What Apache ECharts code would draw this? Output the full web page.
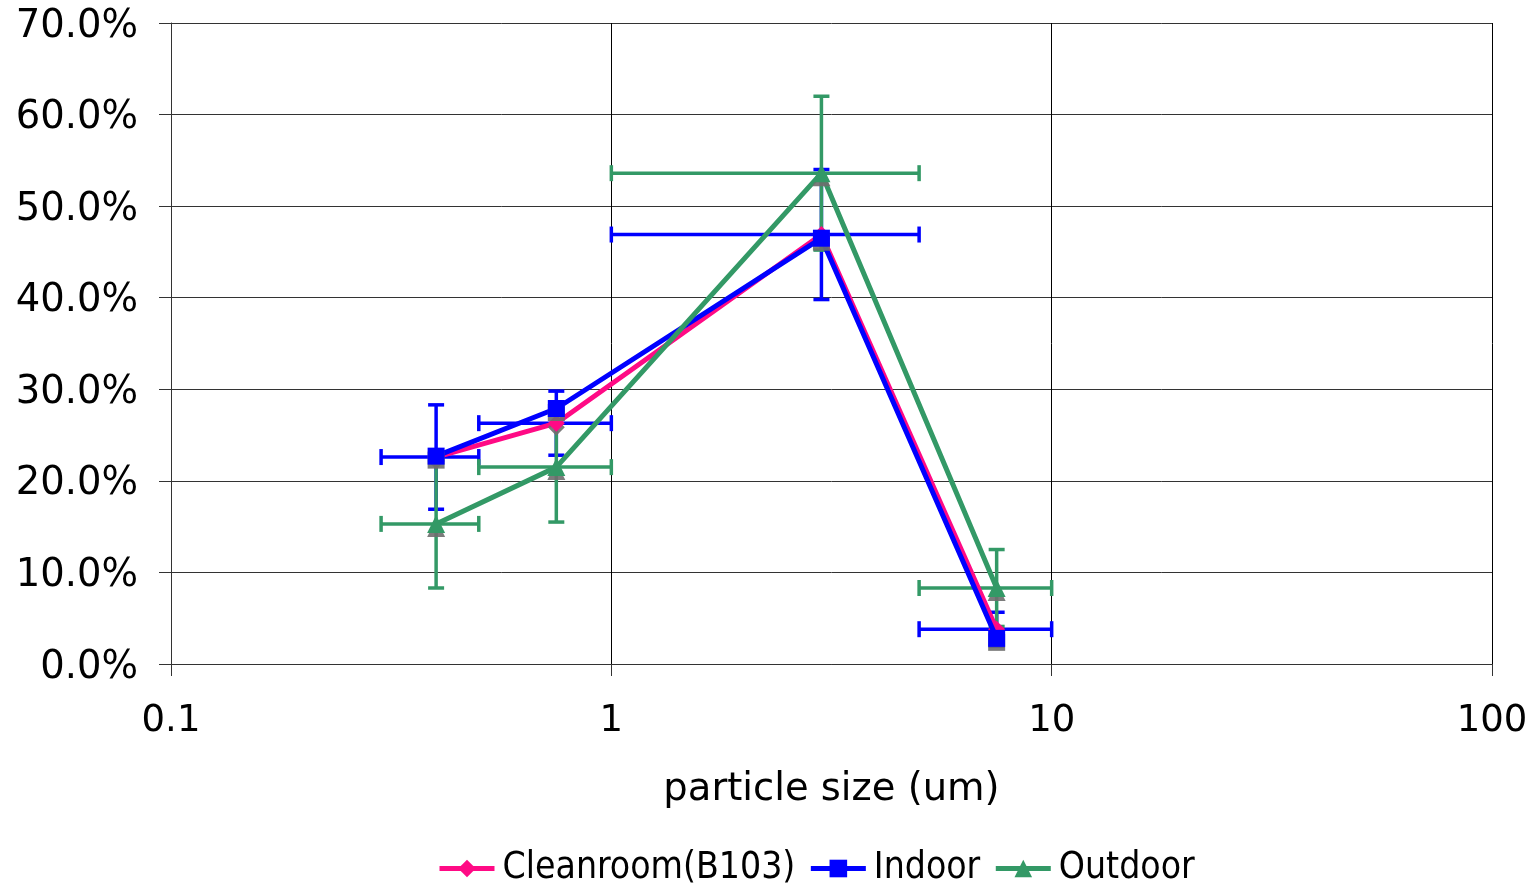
<!DOCTYPE html>
<html><head><meta charset="utf-8">
<script src="https://cdn.jsdelivr.net/npm/echarts@6/dist/echarts.min.js"></script>
<style>html,body{margin:0;padding:0;background:#fff}#c{width:1536px;height:886px}</style>
</head><body><div id="c"></div>
<script>
var particleSize = [0.4, 0.75, 3, 7.5];
var sizeLow = [0.3, 0.5, 1, 5];
var sizeHigh = [0.5, 1, 5, 10];
var cleanroom = [22.6, 26.3, 46.9, 3.8];
var indoor = [22.7, 27.9, 46.5, 2.8];
var outdoor = [15.3, 21.5, 53.6, 8.3];
var cleanroomErr = [5.7, 3.5, 7.1, 1.85];
var outdoorErr = [7.0, 6.0, 8.4, 4.2];
var xTicks = [0.1, 1, 10, 100];
var seriesNames = ['Cleanroom(B103)', 'Indoor', 'Outdoor'];

var FONT = 'DejaVu Sans';
function pts(vals){ return particleSize.map(function(x,i){ return [x, vals[i]]; }); }
function errData(vals, err){
  return particleSize.map(function(x,i){ return [x, vals[i], sizeLow[i], sizeHigh[i], vals[i]-err[i], vals[i]+err[i]]; });
}
function errRender(color){
  return function(params, api){
    var c = api.coord([api.value(0), api.value(1)]);
    var xl = api.coord([api.value(2), api.value(1)]);
    var xh = api.coord([api.value(3), api.value(1)]);
    var yl = api.coord([api.value(0), api.value(4)]);
    var yh = api.coord([api.value(0), api.value(5)]);
    var h = 8;
    var st = {stroke: color, lineWidth: 3.5};
    return {type:'group', children:[
      {type:'line', shape:{x1:xl[0],y1:c[1],x2:xh[0],y2:c[1]}, style:st},
      {type:'line', shape:{x1:xl[0],y1:c[1]-h,x2:xl[0],y2:c[1]+h}, style:st},
      {type:'line', shape:{x1:xh[0],y1:c[1]-h,x2:xh[0],y2:c[1]+h}, style:st},
      {type:'line', shape:{x1:c[0],y1:yl[1],x2:c[0],y2:yh[1]}, style:st},
      {type:'line', shape:{x1:c[0]-h,y1:yl[1],x2:c[0]+h,y2:yl[1]}, style:st},
      {type:'line', shape:{x1:c[0]-h,y1:yh[1],x2:c[0]+h,y2:yh[1]}, style:st}
    ]};
  };
}
var shadow = {shadowColor:'rgba(110,110,110,0.9)', shadowOffsetY:4, shadowBlur:0};
var chart = echarts.init(document.getElementById('c'), null, {renderer:'canvas'});
chart.setOption({
  animation:false,
  textStyle:{fontFamily:FONT},
  grid:{left:171, right:44, top:23, bottom:222},
  xAxis:{type:'log', logBase:10, min:0.1, max:100,
    name:'particle size (um)', nameLocation:'middle', nameGap:106,
    nameTextStyle:{fontFamily:FONT, fontSize:38.5, color:'#000'},
    axisLine:{show:true, lineStyle:{color:'#333', width:1}},
    axisTick:{show:true, length:12, lineStyle:{color:'#333'}},
    axisLabel:{fontFamily:FONT, fontSize:37, color:'#000', margin:39,
      formatter:function(v){ var m = xTicks.filter(function(t){return Math.abs(t-v)<1e-9;}); return m.length? String(m[0]) : ''; }},
    splitLine:{show:true, lineStyle:{color:'#000', width:1}},
    minorTick:{show:false}
  },
  yAxis:{type:'value', min:0, max:70, interval:10,
    axisLine:{show:true, lineStyle:{color:'#333', width:1}},
    axisTick:{show:true, length:12, lineStyle:{color:'#333'}},
    axisLabel:{fontFamily:FONT, fontSize:38.5, color:'#000', margin:33,
      rich:{p:{fontFamily:FONT, fontSize:38.5, color:'#000', padding:[7,0,0,0]}},
      formatter:function(v){ return '{p|' + v.toFixed(1)+'%}'; }},
    splitLine:{show:true, lineStyle:{color:'#333', width:1}}
  },
  legend:{bottom:-6, left:432, data:seriesNames, itemWidth:55, itemHeight:22, itemGap:13,
    lineStyle:{width:5},
    textStyle:{fontFamily:'DejaVu Sans Condensed', fontSize:37, color:'#000', padding:[0,0,0,3]}},
  series:[
    {type:'custom', name:'errC', renderItem:errRender('#0000ff'), data:errData(cleanroom, cleanroomErr), encode:{x:0,y:1}, z:1, silent:true},
    {type:'custom', name:'errO', renderItem:errRender('#339966'), data:errData(outdoor, outdoorErr), encode:{x:0,y:1}, z:1, silent:true},
    {type:'line', name:seriesNames[0], data:pts(cleanroom), symbol:'diamond', symbolSize:17,
      lineStyle:{color:'#ff0a85', width:5}, itemStyle:Object.assign({color:'#ff0a85'}, shadow), z:3},
    {type:'line', name:seriesNames[1], data:pts(indoor), symbol:'rect', symbolSize:17,
      lineStyle:{color:'#0000ff', width:5}, itemStyle:Object.assign({color:'#0000ff'}, shadow), z:4},
    {type:'line', name:seriesNames[2], data:pts(outdoor), symbol:'triangle', symbolSize:18,
      lineStyle:{color:'#339966', width:5}, itemStyle:Object.assign({color:'#339966'}, shadow), z:5}
  ]
});
</script></body></html>
